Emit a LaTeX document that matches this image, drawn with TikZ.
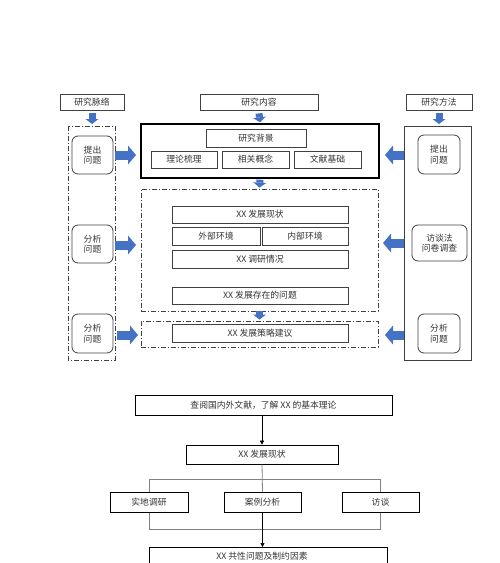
\documentclass[tikz,border=0pt]{standalone}
\usepackage{fontspec}
\setmainfont{Noto Sans CJK SC}
\usetikzlibrary{arrows.meta}
\definecolor{bblue}{HTML}{4472C4}
\definecolor{lc}{HTML}{404040}
\definecolor{tc}{HTML}{333333}
\tikzset{
  box/.style={draw=lc, line width=0.8pt, inner sep=0pt, text=tc, font=\fontsize{8.8}{10.5}\selectfont, align=center},
  rbox/.style={box, rounded corners=6pt},
  ddbox/.style={draw=lc, line width=0.8pt, dash pattern=on 5pt off 2pt on 1pt off 2pt},
  downarr/.style={draw=bblue, line width=7pt, -{Triangle[length=5pt,width=13pt,line width=0pt]}},
  sidearr/.style={draw=bblue, line width=9pt, -{Triangle[length=8pt,width=19pt,line width=0pt]}},
  thinarr/.style={draw=black, line width=0.6pt, -{Triangle[length=4pt,width=4pt]}},
  brk/.style={draw=gray, line width=0.8pt},
}
\begin{document}
\begin{tikzpicture}[x=1pt,y=-1pt]
\useasboundingbox (0,0) rectangle (500,563);
% headers
\node[box, minimum width=64, minimum height=16] (h1) at (92,102) {研究脉络};
\node[box, minimum width=118, minimum height=16] (h2) at (259,102) {研究内容};
\node[box, minimum width=66, minimum height=16] (h3) at (439,102) {研究方法};
% left column
\draw[ddbox] (68,126) rectangle (115,360);
\coordinate (lcoltop) at (92,126);
\node[rbox, minimum width=41, minimum height=38] (l1) at (92.5,155) {提出\\问题};
\node[rbox, minimum width=41, minimum height=38] (l2) at (92.5,244) {分析\\问题};
\node[rbox, minimum width=41, minimum height=39] (l3) at (92.5,333.5) {分析\\问题};
% right column
\draw[draw=lc, line width=0.8pt] (404,126) rectangle (471,360);
\coordinate (rcoltop) at (439,126);
\node[rbox, minimum width=42, minimum height=39] (r1) at (439,154.5) {提出\\问题};
\node[rbox, minimum width=55, minimum height=36] (r2) at (439.5,243) {访谈法\\问卷调查};
\node[rbox, minimum width=42, minimum height=39] (r3) at (439,333.5) {分析\\问题};
% center content
\node[draw=black, line width=1.4pt, minimum width=238, minimum height=54, inner sep=0pt] (c1) at (260,151) {};
\node[box, minimum width=100, minimum height=18] (bg) at (256,138) {研究背景};
\node[box, minimum width=66, minimum height=17] (t1) at (184,159.5) {理论梳理};
\node[box, minimum width=67, minimum height=17] (t2) at (255.5,159.5) {相关概念};
\node[box, minimum width=67, minimum height=17] (t3) at (327.5,159.5) {文献基础};
\node[ddbox, minimum width=237, minimum height=122, inner sep=0pt] (c2) at (259.5,250) {};
\node[box, minimum width=176, minimum height=17] (s1) at (260,214.5) {XX 发展现状};
\node[box, minimum width=88, minimum height=18] (s2) at (216,236) {外部环境};
\node[box, minimum width=86, minimum height=18] (s3) at (305,236) {内部环境};
\node[box, minimum width=176, minimum height=18] (s4) at (260,259) {XX 调研情况};
\node[box, minimum width=176, minimum height=17] (s5) at (260,295.5) {XX 发展存在的问题};
\node[ddbox, minimum width=237, minimum height=26, inner sep=0pt] (c3) at (259.5,334) {};
\node[box, minimum width=176, minimum height=18] (s6) at (260,333) {XX 发展策略建议};
% down arrows
\draw[downarr] ([yshift=-3pt]h1.south) -- (lcoltop |- 0,124);
\draw[downarr] ([yshift=-3pt]h2.south) -- ([yshift=1pt]c1.north);
\draw[downarr] ([yshift=-3pt]h3.south) -- (rcoltop |- 0,124);
\draw[downarr] ([yshift=-1pt]c1.south) -- ([yshift=1pt]c2.north);
\draw[downarr] ([yshift=0pt]c2.south) -- ([yshift=1pt]c3.north);
% side arrows
\draw[sidearr] (115,155) -- (136,155);
\draw[sidearr] (115,245) -- (136,245);
\draw[sidearr] (117,335) -- (138,335);
\draw[sidearr] (404,155) -- (385,155);
\draw[sidearr] (404,243) -- (383,243);
\draw[sidearr] (404,335) -- (385,335);
% bottom flowchart
\node[box, draw=black, line width=0.7pt, minimum width=257, minimum height=20] (f1) at (263.5,405) {查阅国内外文献，了解 XX 的基本理论};
\node[box, draw=black, line width=0.7pt, minimum width=152, minimum height=19] (f2) at (262,454.5) {XX 发展现状};
\draw[brk] (149,479) rectangle (380,529);
\node[box, draw=black, line width=0.7pt, fill=white, minimum width=78, minimum height=20] (f3) at (149,502) {实地调研};
\node[box, draw=black, line width=0.7pt, fill=white, minimum width=77, minimum height=20] (f4) at (262.5,502) {案例分析};
\node[box, draw=black, line width=0.7pt, fill=white, minimum width=77, minimum height=20] (f5) at (380.5,502) {访谈};
\node[box, draw=black, line width=0.7pt, minimum width=238, minimum height=26, anchor=north] (f6) at (268,547) {};
\node[text=tc, font=\fontsize{8.8}{10.5}\selectfont] (f6t) at (262,556) {XX 共性问题及制约因素};
\draw[thinarr] (f1.south -| f2.north) -- (f2.north);
\draw[brk] (f2.south) -- (f4.north);
\draw[thinarr] (f4.south) -- (f4.south |- f6.north);
\end{tikzpicture}
\end{document}
